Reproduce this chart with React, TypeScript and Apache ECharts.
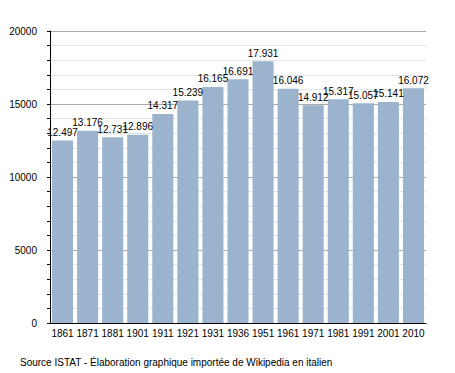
import React, { useEffect, useRef } from "react";
import * as echarts from "echarts";

const categories = ["1861", "1871", "1881", "1901", "1911", "1921", "1931", "1936", "1951", "1961", "1971", "1981", "1991", "2001", "2010"];
const population = [12497, 13176, 12731, 12896, 14317, 15239, 16165, 16691, 17931, 16046, 14912, 15317, 15057, 15141, 16072];
const sourceText = "Source ISTAT - Élaboration graphique importée de Wikipedia en italien";

const FONT = "'Liberation Sans', Arial, sans-serif";

function fmt(v: number): string {
  const s = String(Math.round(v));
  return s.replace(/\B(?=(\d{3})+(?!\d))/g, ".");
}

export default function App() {
  const ref = useRef<HTMLDivElement>(null);
  useEffect(() => {
    document.body.style.margin = "0";
    if (!ref.current) return;
    const chart = echarts.init(ref.current, undefined, { renderer: "svg" });
    chart.setOption({
      animation: false,
      backgroundColor: "#ffffff",
      textStyle: { fontFamily: FONT },
      grid: { left: 50, right: 29, top: 31, bottom: 50, containLabel: false },
      xAxis: {
        type: "category",
        data: categories,
        axisLine: { show: true, lineStyle: { color: "#000", width: 1 } },
        axisTick: { show: false },
        axisLabel: { color: "#000", fontSize: 10, fontFamily: FONT, margin: 5, interval: 0 },
        splitLine: { show: false },
      },
      yAxis: {
        type: "value",
        min: 0,
        max: 20000,
        interval: 5000,
        axisLine: { show: true, lineStyle: { color: "#000", width: 1 } },
        axisTick: { show: true, length: 3, inside: false, lineStyle: { color: "#000" } },
        minorTick: { show: true, splitNumber: 5, length: 3, lineStyle: { color: "#000" } },
        axisLabel: { color: "#000", fontSize: 10, fontFamily: FONT, margin: 13, formatter: (v: number) => String(v) },
        splitLine: { show: true, lineStyle: { color: "#aaaaaa", width: 1 } },
        minorSplitLine: { show: true, lineStyle: { color: "#e3e3e3", width: 1 } },
      },
      series: [
        {
          type: "bar",
          data: population,
          barCategoryGap: "16%",
          itemStyle: { color: "#9bb3cd" },
          label: {
            show: true,
            position: "top",
            distance: 3,
            color: "#000",
            fontSize: 10,
            fontFamily: FONT,
            formatter: (p: any) => fmt(p.value),
          },
        },
      ],
      graphic: [
        {
          type: "text",
          left: 20,
          top: 357,
          style: { text: sourceText, fill: "#000", fontSize: 10, fontFamily: FONT },
        },
      ],
    });
    return () => chart.dispose();
  }, []);
  return <div ref={ref} style={{ width: 455, height: 373 }} />;
}
